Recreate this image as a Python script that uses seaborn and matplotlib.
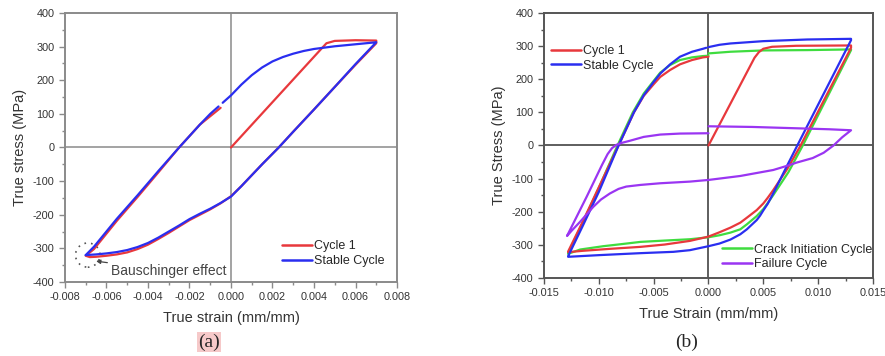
import numpy as np
import pandas as pd
import seaborn as sns
import matplotlib.pyplot as plt
from matplotlib.lines import Line2D
from matplotlib.patches import Ellipse
from matplotlib.ticker import MultipleLocator, AutoMinorLocator

# ---- panel (a) data: strain (mm/mm), stress (MPa) ----
a_cycle1_strain = [0.0, 0.0043, 0.0046, 0.0050, 0.0060, 0.0070,
                   0.0070, 0.0060, 0.0050, 0.0040, 0.0030, 0.0023, 0.0015, 0.0005, 0.0,
                   -0.0005, -0.001, -0.0015, -0.002, -0.0025, -0.003, -0.0035, -0.004,
                   -0.0045, -0.005, -0.0055, -0.006, -0.0065, -0.0068, -0.0070,
                   -0.0066, -0.0055, -0.0045, -0.0035, -0.0025, -0.0015, -0.0005]
a_cycle1_stress = [0, 290, 310, 317, 319, 318,
                   310, 246, 180, 113, 47, 0, -50, -115, -145,
                   -166, -184, -200, -216, -235, -254, -272, -289,
                   -302, -312, -318, -322, -325, -326, -322,
                   -302, -218, -147, -74, 0, 68, 118]

a_stable_strain_1 = [-0.0070, -0.0066, -0.0055, -0.0045, -0.0035, -0.0025, -0.0015, -0.001, -0.0006]
a_stable_stress_1 = [-320, -295, -212, -142, -70, 0, 68, 100, 122]
a_stable_strain_2 = [-0.0004, 0.0, 0.0005, 0.001, 0.0015, 0.002, 0.0025, 0.003, 0.0035, 0.004,
                     0.005, 0.006, 0.007,
                     0.006, 0.005, 0.004, 0.003, 0.0023, 0.0015, 0.0005, 0.0, -0.0005, -0.001,
                     -0.0015, -0.002, -0.0025, -0.003, -0.0035, -0.004, -0.0045, -0.005,
                     -0.0055, -0.006, -0.0065, -0.007]
a_stable_stress_2 = [133, 155, 187, 215, 238, 256, 269, 279, 287, 293,
                     301, 307, 313,
                     248, 180, 113, 47, 0, -50, -115, -146, -165, -182,
                     -197, -213, -232, -250, -268, -284, -296, -305,
                     -311, -315, -318, -320]

# ---- panel (b) data ----
b_cycle1_strain = [0.0, 0.0042, 0.0046, 0.0050, 0.0058, 0.008, 0.013,
                   0.013, 0.0084, 0.0072, 0.0059, 0.0054, 0.005, 0.0044, 0.0035, 0.0029, 0.002,
                   0.001, 0.0, -0.0017, -0.004, -0.0062, -0.009, -0.0115, -0.0128,
                   -0.0128, -0.0115, -0.010, -0.0082, -0.0068, -0.0059, -0.005, -0.0044,
                   -0.0035, -0.0026, -0.0015, -0.0005, 0.0]
b_cycle1_stress = [0, 265, 282, 292, 298, 301, 302,
                   295, 0, -70, -135, -158, -175, -195, -218, -233, -248,
                   -262, -275, -288, -299, -306, -312, -318, -322,
                   -320, -232, -126, 0, 100, 150, 185, 207,
                   228, 245, 258, 266, 268]

b_stable_strain = [0.0, 0.001, 0.002, 0.005, 0.009, 0.013,
                   0.013, 0.0081, 0.007, 0.0059, 0.0054, 0.005, 0.0047, 0.0044, 0.0035, 0.0029,
                   0.002, 0.001, 0.0, -0.0017, -0.0032, -0.0062, -0.010, -0.0128,
                   -0.0128, -0.0115, -0.010, -0.0082, -0.0068, -0.0059, -0.005, -0.0044,
                   -0.0035, -0.0026, -0.0015, -0.0005, -0.0002]
b_stable_stress = [297, 304, 308, 315, 320, 322,
                   318, 0, -72, -145, -176, -196, -212, -225, -253, -268,
                   -284, -296, -304, -316, -321, -325, -331, -336,
                   -334, -245, -140, 0, 100, 152, 192, 217,
                   245, 268, 283, 292, 295]

b_crack_strain = [0.0, 0.002, 0.005, 0.009, 0.013,
                  0.013, 0.0086, 0.0073, 0.0059, 0.0054, 0.005, 0.0044, 0.0035, 0.0029, 0.002,
                  0.001, 0.0, -0.0017, -0.004, -0.0062, -0.008, -0.0096, -0.0117, -0.0128,
                  -0.0128, -0.0115, -0.010, -0.0083, -0.0069, -0.0059, -0.005, -0.0044,
                  -0.0035, -0.0026, -0.0015, -0.0005, 0.0]
b_crack_stress = [278, 283, 287, 288, 290,
                  288, 0, -80, -150, -174, -192, -213, -238, -253, -263,
                  -271, -277, -283, -287, -291, -298, -304, -314, -327,
                  -325, -235, -128, 0, 100, 157, 195, 220,
                  243, 258, 266, 270, 271]

b_failure_strain = [0.0, 0.004, 0.008, 0.011, 0.013,
                    0.0122, 0.0114, 0.0105, 0.0095, 0.008, 0.0073, 0.0059, 0.0029, 0.0,
                    -0.0017, -0.0044, -0.0062, -0.0075, -0.0082, -0.009, -0.0098, -0.0105,
                    -0.0117, -0.0125, -0.0129,
                    -0.0111, -0.0097, -0.0092, -0.0088, -0.0084, -0.0079, -0.0072, -0.0059,
                    -0.0044, -0.0026, 0.0]
b_failure_stress = [58, 56, 52, 49, 46,
                    25, 0, -22, -38, -52, -60, -74, -92, -104,
                    -109, -114, -119, -124, -131, -145, -163, -185,
                    -230, -258, -273,
                    -154, -58, -26, -8, 2, 8, 14, 26,
                    33, 36, 37]

# ---- tidy frames ----
def frame(series, seg, strain, stress):
    return pd.DataFrame({"strain": strain, "stress": stress, "series": series, "seg": seg})

df_a = pd.concat([
    frame("Cycle 1", 0, a_cycle1_strain, a_cycle1_stress),
    frame("Stable Cycle", 1, a_stable_strain_1, a_stable_stress_1),
    frame("Stable Cycle", 2, a_stable_strain_2, a_stable_stress_2),
], ignore_index=True)

df_b = pd.concat([
    frame("Crack Initiation Cycle", 0, b_crack_strain, b_crack_stress),
    frame("Cycle 1", 1, b_cycle1_strain, b_cycle1_stress),
    frame("Stable Cycle", 2, b_stable_strain, b_stable_stress),
    frame("Failure Cycle", 3, b_failure_strain, b_failure_stress),
], ignore_index=True)

colors = {"Cycle 1": "#e8383c", "Stable Cycle": "#2a2ef0",
          "Crack Initiation Cycle": "#3fdc3f", "Failure Cycle": "#9a35f2"}

sns.set_style("white")
plt.rcParams["font.family"] = ["Liberation Sans", "DejaVu Sans"]
plt.rcParams["axes.unicode_minus"] = False

fig = plt.figure(figsize=(8.85, 3.56), dpi=100)
ax_a = fig.add_axes([0.0734, 0.2079, 0.3752, 0.7556])
ax_b = fig.add_axes([0.6147, 0.2191, 0.3717, 0.7444])

sns.lineplot(data=df_a, x="strain", y="stress", hue="series", units="seg", estimator=None,
             sort=False, palette=colors, legend=False, lw=1.6, ax=ax_a)
sns.lineplot(data=df_b, x="strain", y="stress", hue="series", units="seg", estimator=None,
             sort=False, palette=colors, legend=False, lw=1.6, ax=ax_b)


def style_axes(ax, xlim, xmaj, spine_col, zero_col, xlabel, ylabel):
    ax.set_xlim(*xlim)
    ax.set_ylim(-400, 400)
    ax.xaxis.set_major_locator(MultipleLocator(xmaj))
    ax.xaxis.set_minor_locator(AutoMinorLocator(2))
    ax.yaxis.set_major_locator(MultipleLocator(100))
    ax.yaxis.set_minor_locator(AutoMinorLocator(2))
    ax.axhline(0, color=zero_col, lw=1.1, zorder=0)
    ax.axvline(0, color=zero_col, lw=1.1, zorder=0)
    for s in ax.spines.values():
        s.set_color(spine_col)
        s.set_linewidth(1.4)
    ax.tick_params(which="both", direction="out", colors=spine_col, labelcolor="#333333",
                   labelsize=7.8, left=True, bottom=True)
    ax.tick_params(which="major", length=4, width=1)
    ax.tick_params(which="minor", length=2.5, width=1)
    ax.set_xlabel(xlabel, fontsize=10.5, color="#333333", labelpad=6)
    ax.set_ylabel(ylabel, fontsize=10.5, color="#333333", labelpad=4)
    ticks = ax.get_xticks()
    ax.set_xticks(ticks)
    ax.set_xticklabels(["{:.3f}".format(t) for t in ticks])
    ax.set_xlim(*xlim)


style_axes(ax_a, (-0.008, 0.008), 0.002, "#8a8a8a", "#8a8a8a",
           "True strain (mm/mm)", "True stress (MPa)")
style_axes(ax_b, (-0.015, 0.015), 0.005, "#555555", "#333333",
           "True Strain (mm/mm)", "True Stress (MPa)")


def handles(names):
    return [Line2D([], [], color=colors[n], lw=1.8) for n in names]


leg_kw = dict(frameon=False, fontsize=9, handlelength=2.4, handletextpad=0.15,
              labelspacing=0.2, borderpad=0, borderaxespad=0, loc="center left")

names = ["Cycle 1", "Stable Cycle"]
ax_a.legend(handles(names), names, bbox_to_anchor=(0.653, 0.105), **leg_kw)

leg1 = ax_b.legend(handles(names), names, bbox_to_anchor=(0.021, 0.828), **leg_kw)
ax_b.add_artist(leg1)
names2 = ["Crack Initiation Cycle", "Failure Cycle"]
ax_b.legend(handles(names2), names2, bbox_to_anchor=(0.541, 0.079), **leg_kw)

# Bauschinger annotation
ax_a.add_patch(Ellipse((-0.0069, -320), 0.00118, 72, fill=False, ls=(0, (1, 3)),
                       color="#555555", lw=1.2))
ax_a.annotate("Bauschinger effect", xy=(-0.0065, -338), xytext=(-0.0058, -367),
              fontsize=10, color="#444444", va="center", ha="left",
              arrowprops=dict(arrowstyle="-|>", color="#444444", lw=0.9,
                              shrinkA=0, shrinkB=0, mutation_scale=6))

fig.text(209 / 885, 1 - 342 / 356, "(a)", fontsize=14, family="Liberation Serif",
         ha="center", va="center",
         bbox=dict(facecolor="#f6c9c9", edgecolor="none", pad=1))
fig.text(687 / 885, 1 - 342 / 356, "(b)", fontsize=14, family="Liberation Serif",
         ha="center", va="center")

fig.savefig("out.png", dpi=100)
